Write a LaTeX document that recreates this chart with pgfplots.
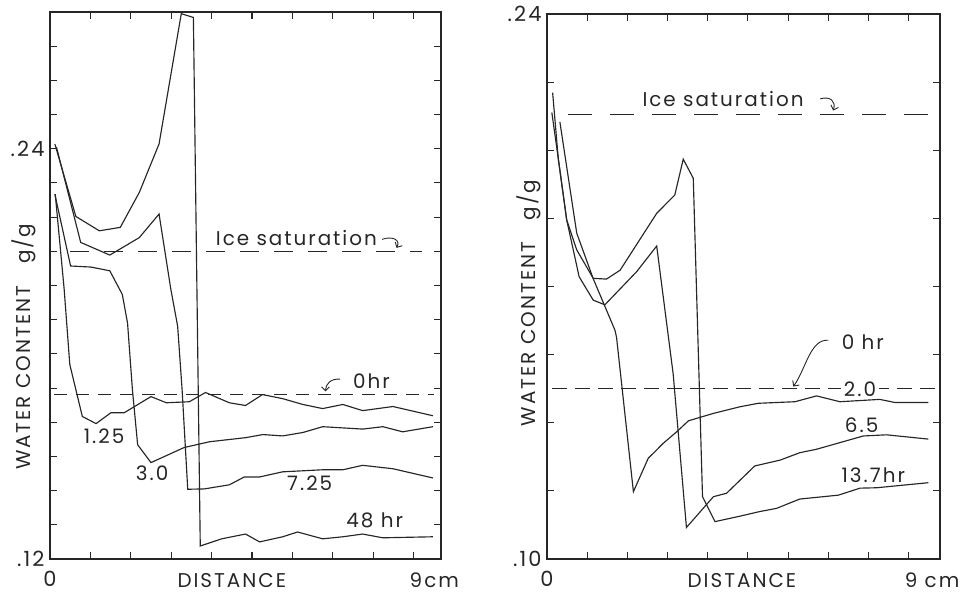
\documentclass[border=0pt]{standalone}
\usepackage{pgfplots}
\pgfplotsset{compat=1.18}
\usetikzlibrary{arrows.meta}
\usepackage{fontspec}
\setmainfont[LetterSpace=10]{Poppins}
\newcommand\lbl{\fontsize{20}{22}\selectfont}
\newcommand\tkl{\fontsize{21}{22}\selectfont}
\tikzset{
  ann/.style={font=\lbl, text=black!85, inner sep=1bp},
  arr/.style={line width=0.9bp, black!85, -{Straight Barb[length=4bp]}},
  crv/.style={black!85, line width=1.15bp, mark=none},
}
\begin{document}
\begin{tikzpicture}
\useasboundingbox (0bp,0bp) rectangle (962bp,595bp);
\pgfplotsset{
  panel/.style={
    scale only axis,
    axis line style={line width=1.3bp, black!85},
    tick style={line width=1.1bp, black!85},
    major tick length=7bp,
    tick align=inside,
    xmin=0, xtick={0,1,2,3,4,5,6,7,8,9},
    xticklabels={\mbox{0},,,,,,,,,},
    xticklabel style={font=\tkl, text=black!85, yshift=-9bp},
    yticklabel style={font=\tkl, text=black!85, xshift=-2bp},
    clip=false,
  },
}
% ---------------- left panel ----------------
\begin{axis}[panel, at={(50bp,36bp)}, anchor=south west,
  width=391bp, height=547bp, xmax=9.68,
  ymin=0.12, ymax=0.28,
  ytick={0.12,0.13,0.14,0.15,0.16,0.17,0.18,0.19,0.20,0.21,0.22,0.23,0.24,0.25,0.26,0.27,0.28},
  yticklabels={\mbox{.12},,,,,,,,,,,,\mbox{.24},,,,},
]
% ice saturation and 0 hr
\addplot[crv, dash pattern=on 19bp off 15bp] coordinates {(0.5,0.210) (9.2,0.210)};
\addplot[crv, dash pattern=on 13bp off 9bp] coordinates {(0.1,0.168) (9.5,0.168)};
% 1.25 hr
\addplot[crv] coordinates {(0.13,0.2267) (0.35,0.199) (0.49,0.1769) (0.80,0.1617) (1.14,0.1596)
  (1.51,0.1628) (1.84,0.1628) (2.5,0.1675) (2.88,0.1657) (3.45,0.166) (3.85,0.1687)
  (4.44,0.1657) (4.84,0.1649) (5.26,0.1681) (5.76,0.1669) (6.26,0.1652) (6.75,0.164)
  (7.25,0.1652) (7.74,0.1634) (8.49,0.1646) (9.48,0.1619)};
% 3.0 hr
\addplot[crv] coordinates {(0.12,0.2267) (0.51,0.2057) (1.01,0.2054) (1.48,0.2043) (1.79,0.1974)
  (1.92,0.189) (2.04,0.1696) (2.17,0.1534) (2.50,0.1482) (3.32,0.1526) (3.95,0.1543)
  (4.85,0.1555) (5.27,0.1564) (5.76,0.156) (6.26,0.157) (6.75,0.1587) (7.74,0.158)
  (8.24,0.1587) (8.73,0.1572) (9.48,0.1587)};
% 7.25 hr
\addplot[crv] coordinates {(0.16,0.2405) (0.76,0.2126) (1.48,0.2089) (2.21,0.214) (2.70,0.2209)
  (2.99,0.199) (3.16,0.1881) (3.27,0.1696) (3.41,0.1404) (3.82,0.1405) (4.44,0.1417)
  (4.81,0.144) (5.19,0.144) (5.76,0.1455) (6.75,0.1461) (7.25,0.1461) (7.74,0.1474)
  (8.49,0.1464) (9.48,0.1437)};
% 48 hr
\addplot[crv] coordinates {(0.12,0.2414) (0.64,0.2202) (1.22,0.216) (1.74,0.217) (2.21,0.2272)
  (2.70,0.2414) (3.25,0.2795) (3.55,0.2784) (3.72,0.1238) (4.25,0.1259) (4.84,0.1273)
  (5.19,0.1250) (5.76,0.1265) (6.13,0.1279) (6.75,0.1259) (7.25,0.1265) (7.74,0.1273)
  (8.24,0.1262) (9.48,0.1265)};
\node[ann] at (axis cs:6.1,0.2138) {Ice saturation};
\draw[arr] (axis cs:8.22,0.2135) .. controls (axis cs:8.50,0.2146) and (axis cs:8.68,0.2132) .. (axis cs:8.58,0.2110);
\node[ann] at (axis cs:7.96,0.1720) {0hr};
\draw[arr] (axis cs:7.18,0.1726) .. controls (axis cs:6.95,0.1728) and (axis cs:6.82,0.1712) .. (axis cs:6.82,0.1690);
\node[ann] at (axis cs:1.34,0.1558) {1.25};
\node[ann] at (axis cs:2.53,0.1452) {3.0};
\node[ann] at (axis cs:6.43,0.1423) {7.25};
\node[ann] at (axis cs:8.04,0.1314) {48 hr};
\node[ann, anchor=north west] at ([xshift=-5bp,yshift=-13bp]axis cs:9,0.12) {9cm};
\node[ann, anchor=north] at ([yshift=-13bp]axis cs:4.5,0.12) {DISTANCE};
\node[ann, rotate=90] at (axis description cs:-0.066,0.388) {WATER CONTENT\ \ \ g/g};
\end{axis}
% ---------------- right panel ----------------
\begin{axis}[panel, at={(547bp,36bp)}, anchor=south west,
  width=393bp, height=545bp, xmax=9.78,
  ymin=0.10, ymax=0.24,
  ytick={0.1,0.1175,0.135,0.1525,0.17,0.1875,0.205,0.2225,0.24},
  yticklabels={\mbox{.10},,,,,,,,\mbox{.24}},
]
\addplot[crv, dash pattern=on 24bp off 18bp] coordinates {(0.52,0.2141) (9.58,0.2141)};
\addplot[crv, dash pattern=on 15bp off 8bp] coordinates {(0.12,0.1437) (9.65,0.1437)};
% 2.0 hr
\addplot[crv] coordinates {(0.32,0.2123) (0.74,0.1837) (1.15,0.172) (1.69,0.1588) (1.73,0.157)
  (2.15,0.1173) (2.52,0.1259) (2.65,0.1272) (2.89,0.1297) (3.23,0.1327) (3.52,0.1355)
  (4.14,0.1374) (4.80,0.1391) (5.26,0.14) (6.17,0.1404) (6.71,0.1419) (7.29,0.1404)
  (8.28,0.141) (8.66,0.1402) (9.49,0.1402)};
% 6.5 hr
\addplot[crv] coordinates {(0.14,0.2198) (0.28,0.2029) (0.49,0.1871) (0.80,0.1725) (1.15,0.1665)
  (1.44,0.1653) (2.23,0.1738) (2.73,0.1804) (3.14,0.1475) (3.47,0.1081) (4.14,0.116)
  (4.47,0.1169) (5.17,0.1239) (5.80,0.1254) (6.29,0.1273) (6.71,0.1282) (7.29,0.1299)
  (7.87,0.1316) (8.45,0.1319) (9.49,0.1308)};
% 13.7 hr
\addplot[crv] coordinates {(0.12,0.2147) (0.28,0.2029) (0.49,0.1871) (0.74,0.1794) (1.15,0.1721)
  (1.48,0.1719) (1.82,0.1742) (2.73,0.1888) (3.18,0.1935) (3.39,0.2027) (3.64,0.1978)
  (3.87,0.116) (4.18,0.1096) (4.80,0.111) (5.30,0.1122) (5.71,0.113) (6.29,0.1154)
  (7.25,0.1164) (7.79,0.1182) (8.20,0.1183) (9.49,0.1196)};
\node[ann] at (axis cs:4.38,0.2182) {Ice saturation};
\draw[arr] (axis cs:6.80,0.2182) .. controls (axis cs:7.05,0.2190) and (axis cs:7.20,0.2175) .. (axis cs:7.12,0.2152);
\node[ann] at (axis cs:7.86,0.1556) {0 hr};
\draw[arr] (axis cs:7.00,0.1562) .. controls (axis cs:6.55,0.1565) and (axis cs:6.45,0.1490) .. (axis cs:6.13,0.1443);
\node[ann, fill=white, inner xsep=3bp] at (axis cs:7.79,0.1436) {2.0};
\node[ann] at (axis cs:7.83,0.1344) {6.5};
\node[ann] at (axis cs:8.12,0.1216) {13.7hr};
\node[ann, anchor=north west] at ([xshift=-5bp,yshift=-13bp]axis cs:9,0.10) {9 cm};
\node[ann, anchor=north] at ([yshift=-13bp]axis cs:4.85,0.10) {DISTANCE};
\node[ann, rotate=90] at (axis description cs:-0.046,0.47) {WATER CONTENT\ \ \ g/g};
\end{axis}
\end{tikzpicture}
\end{document}
